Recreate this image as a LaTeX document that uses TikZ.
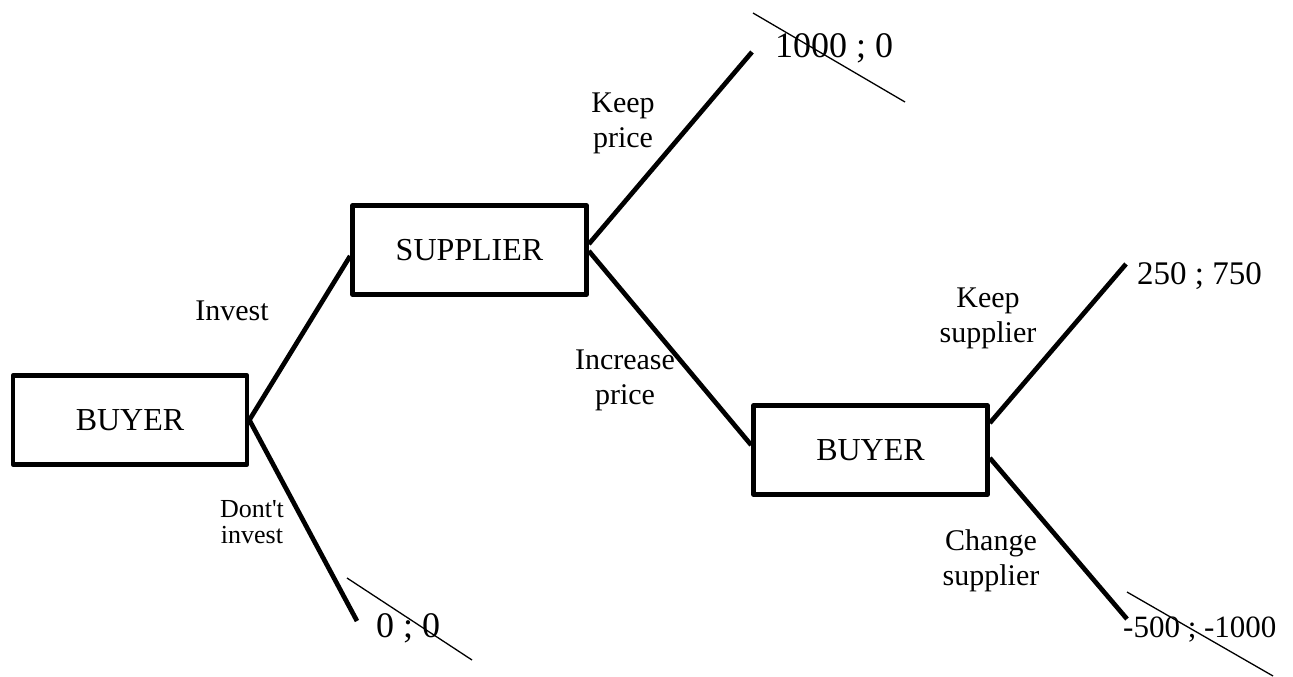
\documentclass[tikz,border=0pt]{standalone}
\usepackage{fontspec}
\setmainfont{Liberation Serif}
\newfontfamily\plainserif{Liberation Serif}
\usetikzlibrary{calc}
\begin{document}
\begin{tikzpicture}[x=1pt,y=-1pt,
  decision/.style={draw, line width=4.7pt, line join=round, minimum width=234pt, minimum height=89pt, inner sep=0pt, font=\fontsize{32}{36}\selectfont},
  branch/.style={line width=4.7pt},
  lbl/.style={align=center, anchor=base, inner sep=0pt, font=\fontsize{30}{35}\selectfont},
  smalllbl/.style={align=center, anchor=base, inner sep=0pt, font=\plainserif\fontsize{26}{26}\selectfont},
  payoff/.style={anchor=base west, inner sep=0pt},
  strike/.style={line width=1.3pt}]
\useasboundingbox (0,0) rectangle (1293,677);

\node[decision] (b1) at (130,420) {BUYER};
\node[decision] (sup) at (469.5,250) {SUPPLIER};
\node[decision] (b2) at (870.5,450) {BUYER};

\coordinate (e1000) at (752,52);
\coordinate (e00) at (357,621);
\coordinate (e250) at (1126,264);
\coordinate (e500) at (1127,619);

\draw[branch] (b1.east) -- ([yshift=-6pt]sup.west);
\draw[branch] (b1.east) -- (e00);
\draw[branch] ([yshift=6pt]sup.east) -- (e1000);
\draw[branch] ([yshift=-1pt]sup.east) -- ([yshift=5pt]b2.west);
\draw[branch] ([yshift=27pt]b2.east) -- (e250);
\draw[branch] ([yshift=-8pt]b2.east) -- (e500);

\node[lbl] (linv) at (232,320) {Invest};
\node[smalllbl] (ldont) at (252,543) {Dont't\\invest};
\node[lbl] (lkp) at (623,147) {Keep\\price};
\node[lbl] (linc) at (625,404) {Increase\\price};
\node[lbl] (lks) at (988,342) {Keep\\supplier};
\node[lbl] (lcs) at (991,585) {Change\\supplier};

\node[payoff, font=\fontsize{36}{40}\selectfont] (p1) at (775,58) {1000 ; 0};
\node[payoff, font=\fontsize{36}{40}\selectfont] (p2) at (376,637) {0 ; 0};
\node[payoff, font=\fontsize{33}{38}\selectfont] (p3) at (1137,284) {250 ; 750};
\node[payoff, font=\fontsize{31}{36}\selectfont] (p4) at (1123,637) {-500 ; -1000};

\draw[strike] (753,13) -- (905,102);
\draw[strike] (347,578) -- (472,660);
\draw[strike] (1127,592) -- (1273,676);
\end{tikzpicture}
\end{document}
